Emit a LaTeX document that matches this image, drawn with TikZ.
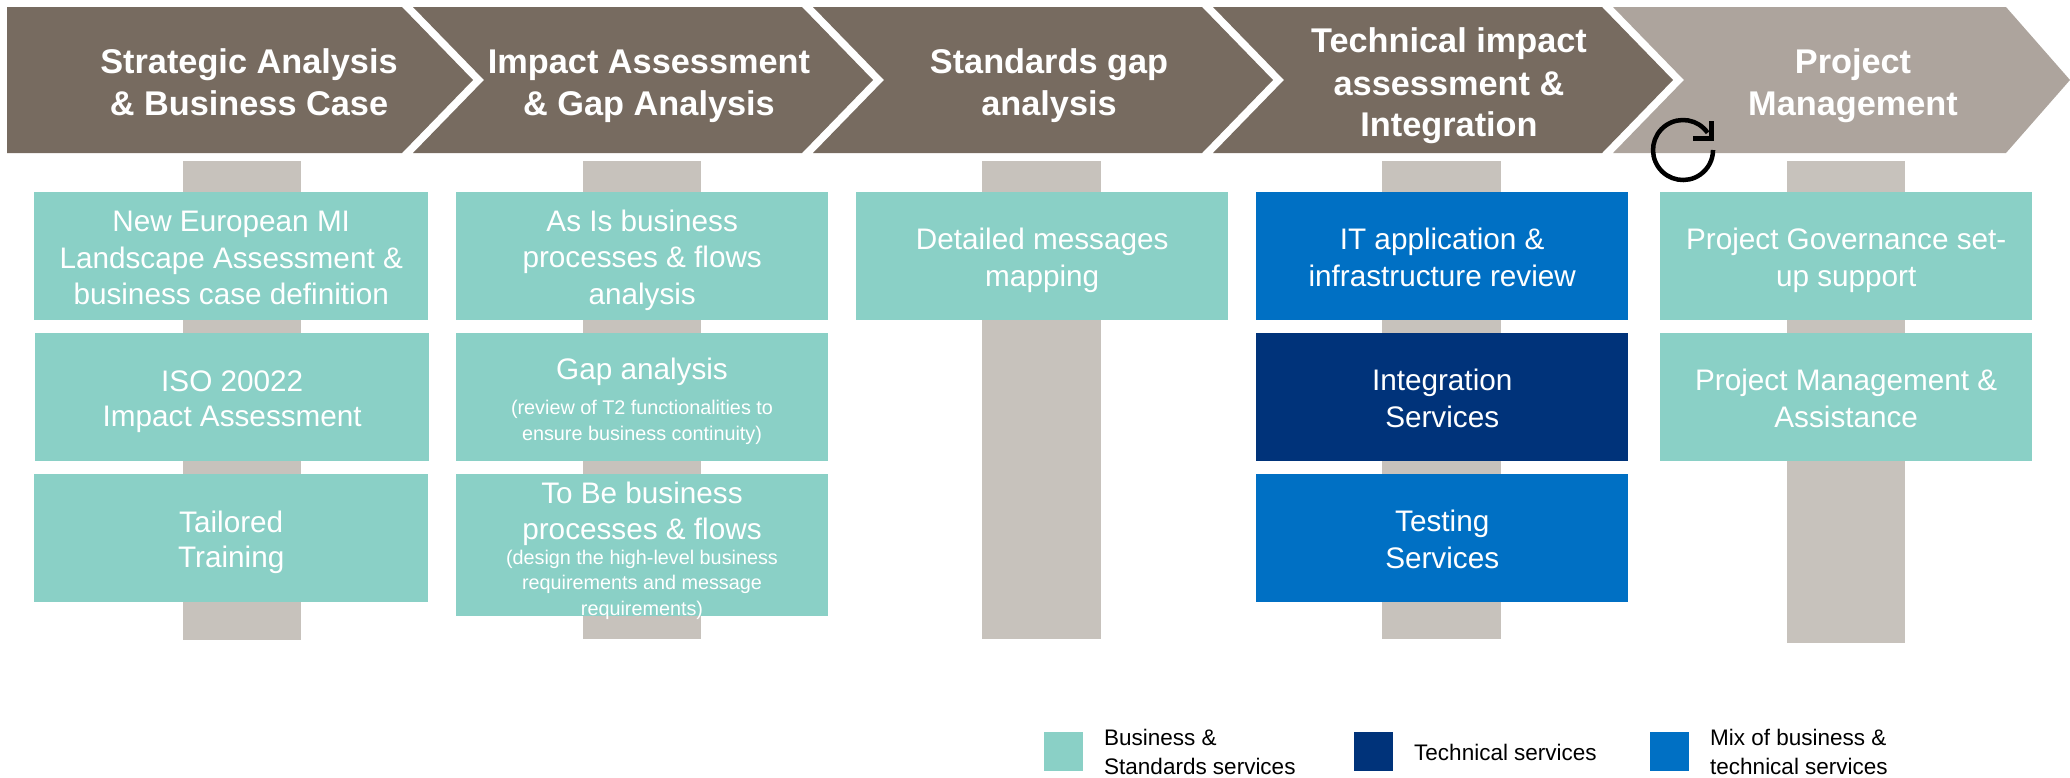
\documentclass[tikz,border=0pt]{standalone}
\usepackage{fontspec}
\setmainfont{Liberation Sans}
\definecolor{chevdark}{HTML}{776B60}
\definecolor{chevlight}{HTML}{ADA49D}
\definecolor{barcol}{HTML}{C7C2BC}
\definecolor{teal2}{HTML}{8AD0C6}
\definecolor{blue2}{HTML}{0070C4}
\definecolor{navy2}{HTML}{00337A}
\newcommand{\st}{\rule[-.167\baselineskip]{0pt}{\baselineskip}}
\tikzset{
  x=1pt,y=-1pt,
  chevtext/.style={text=white,font=\fontsize{34.3}{41}\selectfont\bfseries,align=center,inner sep=0pt},
  pillar/.style={fill=barcol,draw=none,anchor=north west,inner sep=0pt},
  svc/.style={anchor=north west,inner sep=0pt,text=white,align=center,font=\fontsize{29.7}{35.5}\selectfont},
  bizbox/.style={svc,fill=teal2},
  mixbox/.style={svc,fill=blue2},
  techbox/.style={svc,fill=navy2},
  boxlabel/.style={inner sep=0pt,text=white,align=center,font=\fontsize{29.7}{35.5}\selectfont},
  sublabel/.style={inner sep=0pt,text=white,align=center,font=\fontsize{19.8}{26}\selectfont},
  sublabelb/.style={inner sep=0pt,text=white,align=center,font=\fontsize{19.8}{24}\selectfont},
  legswatch/.style={anchor=north west,inner sep=0pt,minimum width=39pt,minimum height=39pt},
  legtext/.style={anchor=west,inner sep=0pt,align=left,font=\fontsize{22.5}{29}\selectfont,text=black},
}
\begin{document}
\begin{tikzpicture}
\useasboundingbox (0,0) rectangle (2070,777);
% chevrons
\fill[chevdark] (7,7) -- (402,7) -- (473,80) -- (402,153) -- (7,153) -- cycle;
\fill[chevdark] (413,7) -- (802,7) -- (873,80) -- (802,153) -- (413,153) -- (484,80) -- cycle;
\fill[chevdark] (813,7) -- (1202,7) -- (1273,80) -- (1202,153) -- (813,153) -- (884,80) -- cycle;
\fill[chevdark] (1213,7) -- (1602,7) -- (1673,80) -- (1602,153) -- (1213,153) -- (1284,80) -- cycle;
\fill[chevlight] (1613,7) -- (2006,7) -- (2070,80) -- (2006,153) -- (1613,153) -- (1684,80) -- cycle;
\node[chevtext] (c1) at (249,81) {\st Strategic Analysis\\\st\& Business Case};
\node[chevtext] (c2) at (649,81) {\st Impact Assessment\\\st\& Gap Analysis};
\node[chevtext] (c3) at (1049,81) {\st Standards gap\\\st analysis};
\node[chevtext] (c4) at (1449,81) {\st Technical impact\\\st assessment \&\\\st Integration};
\node[chevtext] (c5) at (1853,81) {\st Project\\\st Management};
% pillars
\node[pillar,minimum width=118pt,minimum height=479pt] (b1) at (183,161) {};
\node[pillar,minimum width=118pt,minimum height=478pt] (b2) at (583,161) {};
\node[pillar,minimum width=119pt,minimum height=478pt] (b3) at (982,161) {};
\node[pillar,minimum width=119pt,minimum height=478pt] (b4) at (1382,161) {};
\node[pillar,minimum width=118pt,minimum height=482pt] (b5) at (1787,161) {};
% column 1
\node[bizbox,minimum width=394pt,minimum height=128pt] (a1) at (34,192) {\st New European MI\\\st Landscape Assessment \&\\\st business case definition};
\node[bizbox,minimum width=394pt,minimum height=128pt] (a2) at (35,333) {\st ISO 20022\\\st Impact Assessment};
\node[bizbox,minimum width=394pt,minimum height=128pt] (a3) at (34,474) {\st Tailored\\\st Training};
% column 2
\node[bizbox,minimum width=372pt,minimum height=128pt] (d1) at (456,192) {\st As Is business\\\st processes \& flows\\\st analysis};
\node[bizbox,minimum width=372pt,minimum height=128pt] (d2) at (456,333) {};
\node[boxlabel] (d2a) at (642,368) {\st Gap analysis};
\node[sublabel] (d2b) at (642,419) {\st (review of T2 functionalities to\\\st ensure business continuity)};
\node[bizbox,minimum width=372pt,minimum height=142pt] (d3) at (456,474) {};
\node[boxlabel] (d3a) at (642,510) {\st To Be business\\\st processes \& flows};
\node[sublabelb] (d3b) at (642,582) {\st (design the high-level business\\\st requirements and message\\\st requirements)};
% column 3
\node[bizbox,minimum width=372pt,minimum height=128pt] (e1) at (856,192) {\st Detailed messages\\\st mapping};
% column 4
\node[mixbox,minimum width=372pt,minimum height=128pt] (f1) at (1256,192) {\st IT application \&\\\st infrastructure review};
\node[techbox,minimum width=372pt,minimum height=128pt] (f2) at (1256,333) {\st Integration\\\st Services};
\node[mixbox,minimum width=372pt,minimum height=128pt] (f3) at (1256,474) {\st Testing\\\st Services};
% column 5
\node[bizbox,minimum width=372pt,minimum height=128pt] (g1) at (1660,192) {\st Project Governance set-\\\st up support};
\node[bizbox,minimum width=372pt,minimum height=128pt] (g2) at (1660,333) {\st Project Management \&\\\st Assistance};
% cycle icon
\draw[black,line width=4.5pt] (1707.6,132.8) arc[start angle=-35,end angle=-360,radius=30];
\draw[black,line width=5pt,line join=miter] (1711,121) -- (1711,138) -- (1693,138);
% legend
\node[legswatch,fill=teal2] (l1) at (1044,732) {};
\node[legswatch,fill=navy2] (l2) at (1354,732) {};
\node[legswatch,fill=blue2] (l3) at (1650,732) {};
\node[legtext] (t1) at (1104,752) {Business \&\\Standards services};
\node[legtext] (t2) at (1414,752) {Technical services};
\node[legtext] (t3) at (1710,752) {Mix of business \&\\technical services};
\end{tikzpicture}
\end{document}
